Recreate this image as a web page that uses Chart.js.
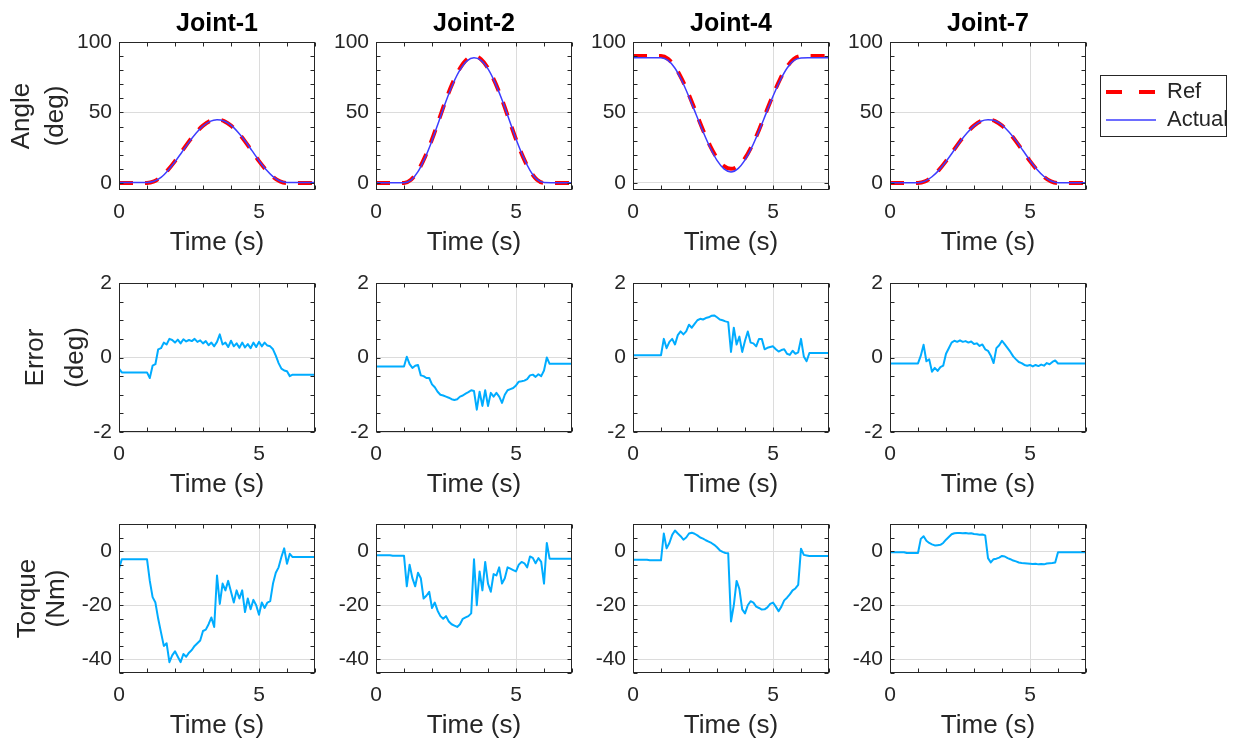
<!DOCTYPE html>
<html>
<head>
<meta charset="utf-8">
<script src="https://cdn.jsdelivr.net/npm/chart.js@4"></script>
<style>
  html, body { margin: 0; background: #fff; }
  #fig { position: relative; width: 1234px; height: 742px; overflow: hidden; }
  #fig canvas { position: absolute; }
</style>
</head>
<body>
<div id="fig"></div>
<script>
// ---- data ----
const joints = ['Joint-1', 'Joint-2', 'Joint-4', 'Joint-7'];
const rowLabels = [['Angle', '(deg)'], ['Error', '(deg)'], ['Torque', '(Nm)']];
const xTickLabels = [0, 5];
const angleTicks = [0, 50, 100];
const errorTicks = [-2, 0, 2];
const torqueTicks = [-40, -20, 0];

// time base of the angle curves (s)
const tAngle = [0, 0.25, 0.5, 0.75, 1, 1.25, 1.5, 1.75, 2, 2.25, 2.5, 2.75, 3, 3.25, 3.5,
  3.75, 4, 4.25, 4.5, 4.75, 5, 5.25, 5.5, 5.75, 6, 6.25, 6.5, 6.75, 7];

const refJ1 = [0, 0, 0, 0, 0, 1.1, 4.3, 9.3, 15.5, 22.5, 29.5, 35.7, 40.7, 43.9, 45,
  43.9, 40.7, 35.7, 29.5, 22.5, 15.5, 9.3, 4.3, 1.1, 0, 0, 0, 0, 0];
const actJ1 = [0.4, 0.4, 0.4, 0.4, 0.4, 1.2, 4.0, 8.9, 15.0, 22.0, 29.0, 35.3, 40.4, 43.7, 44.9,
  44.0, 41.0, 36.0, 29.9, 22.9, 15.8, 9.5, 4.5, 1.4, 0.4, 0.4, 0.4, 0.4, 0.4];
const refJ2 = [0, 0, 0, 0, 0, 2.2, 8.6, 18.5, 30.9, 45, 59.1, 71.5, 81.4, 87.8, 90,
  87.8, 81.4, 71.5, 59.1, 45, 30.9, 18.5, 8.6, 2.2, 0, 0, 0, 0, 0];
const actJ2 = [0.2, 0.2, 0.2, 0.2, 0.2, 2.0, 8.0, 17.8, 30.0, 44.0, 58.0, 70.4, 80.2, 86.6, 88.8,
  87.0, 80.9, 71.2, 59.0, 45.2, 31.2, 18.9, 9.0, 2.5, 0.3, 0.2, 0.2, 0.2, 0.2];
const refJ4 = [90, 90, 90, 90, 90, 88.0, 82.4, 73.5, 62.4, 50, 37.6, 26.5, 17.6, 11.9, 10,
  11.9, 17.6, 26.5, 37.6, 50, 62.4, 73.5, 82.4, 88.0, 90, 90, 90, 90, 90];
const actJ4 = [88.8, 88.8, 88.8, 88.8, 88.8, 86.9, 81.4, 72.3, 61.0, 48.8, 36.5, 25.3, 16.0, 10.0, 7.8,
  10.2, 16.4, 25.6, 36.9, 49.2, 61.5, 72.5, 81.4, 86.9, 88.6, 88.8, 88.8, 88.8, 88.8];
const refJ7 = [0, 0, 0, 0, 0, 1.1, 4.3, 9.3, 15.5, 22.5, 29.5, 35.7, 40.7, 43.9, 45,
  43.9, 40.7, 35.7, 29.5, 22.5, 15.5, 9.3, 4.3, 1.1, 0, 0, 0, 0, 0];
const actJ7 = [0.2, 0.2, 0.2, 0.2, 0.2, 1.3, 4.4, 9.1, 15.2, 22.1, 29.2, 35.4, 40.5, 43.8, 44.9,
  44.1, 41.1, 36.1, 30.0, 23.0, 15.9, 9.6, 4.6, 1.4, 0.2, 0.2, 0.2, 0.2, 0.2];

// time base of error and torque traces (s)
const tTrace = [0, 0.1, 0.2, 0.3, 0.4, 0.5, 0.6, 0.7, 0.8, 0.9, 1, 1.1, 1.2, 1.3, 1.4, 1.5, 1.6, 1.7, 1.8, 1.9,
  2, 2.1, 2.2, 2.3, 2.4, 2.5, 2.6, 2.7, 2.8, 2.9, 3, 3.1, 3.2, 3.3, 3.4, 3.5, 3.6, 3.7, 3.8, 3.9,
  4, 4.1, 4.2, 4.3, 4.4, 4.5, 4.6, 4.7, 4.8, 4.9, 5, 5.1, 5.2, 5.3, 5.4, 5.5, 5.6, 5.7, 5.8, 5.9,
  6, 6.1, 6.2, 6.3, 6.4, 6.5, 6.6, 6.7, 6.8, 6.9, 7];

const errJ1 = [-0.30, -0.40, -0.40, -0.40, -0.40, -0.40, -0.40, -0.40, -0.40, -0.40, -0.40,
  -0.55, -0.22, -0.18, 0.22, 0.25, 0.40, 0.35, 0.50, 0.47, 0.40,
  0.48, 0.38, 0.49, 0.43, 0.47, 0.44, 0.50, 0.42, 0.46, 0.38,
  0.44, 0.33, 0.40, 0.30, 0.42, 0.62, 0.35, 0.40, 0.28, 0.45,
  0.30, 0.38, 0.26, 0.40, 0.27, 0.36, 0.25, 0.40, 0.28, 0.42,
  0.30, 0.40, 0.32, 0.30, 0.22, 0.05, -0.15, -0.30, -0.35, -0.37,
  -0.50, -0.46, -0.46, -0.46, -0.46, -0.46, -0.46, -0.46, -0.46, -0.46];
const errJ2 = [-0.24, -0.24, -0.24, -0.24, -0.24, -0.24, -0.24, -0.24, -0.24, -0.24, -0.24,
  0.02, -0.18, -0.28, -0.22, -0.20, -0.48, -0.50, -0.55, -0.55, -0.72,
  -0.80, -0.92, -1.00, -1.02, -1.05, -1.08, -1.12, -1.14, -1.12, -1.05,
  -1.02, -0.97, -0.93, -0.88, -0.90, -1.40, -0.92, -1.30, -0.88, -1.30,
  -0.95, -1.05, -0.95, -1.05, -1.22, -1.00, -0.88, -0.85, -0.82, -0.75,
  -0.65, -0.64, -0.62, -0.58, -0.48, -0.46, -0.52, -0.45, -0.50, -0.35,
  0.00, -0.17, -0.17, -0.17, -0.17, -0.17, -0.17, -0.17, -0.17, -0.17];
const errJ4 = [0.06, 0.06, 0.06, 0.06, 0.06, 0.06, 0.06, 0.06, 0.06, 0.06, 0.06,
  0.50, 0.25, 0.42, 0.50, 0.35, 0.60, 0.70, 0.62, 0.70, 0.88,
  0.80, 0.90, 1.00, 1.04, 1.02, 1.06, 1.08, 1.12, 1.13, 1.08,
  1.02, 1.00, 0.97, 0.95, 0.15, 0.80, 0.35, 0.56, 0.15, 0.45,
  0.70, 0.40, 0.38, 0.30, 0.50, 0.50, 0.22, 0.26, 0.28, 0.30,
  0.22, 0.16, 0.20, 0.22, 0.10, 0.07, 0.18, 0.10, 0.14, 0.50,
  0.03, -0.10, 0.12, 0.12, 0.12, 0.12, 0.12, 0.12, 0.12, 0.12];
const errJ7 = [-0.16, -0.16, -0.16, -0.16, -0.16, -0.16, -0.16, -0.16, -0.16, -0.16, -0.16,
  0.05, 0.34, -0.10, -0.05, -0.38, -0.28, -0.36, -0.26, -0.22, 0.10,
  0.25, 0.40, 0.45, 0.42, 0.46, 0.42, 0.44, 0.40, 0.43, 0.36,
  0.38, 0.31, 0.35, 0.22, 0.18, 0.05, -0.15, 0.25, 0.33, 0.45,
  0.35, 0.25, 0.15, 0.03, -0.05, -0.12, -0.15, -0.20, -0.22, -0.20,
  -0.24, -0.20, -0.23, -0.19, -0.22, -0.15, -0.18, -0.12, -0.08, -0.16,
  -0.16, -0.16, -0.16, -0.16, -0.16, -0.16, -0.16, -0.16, -0.16, -0.16];

const tqJ1 = [-6.5, -3.0, -3.0, -3.0, -3.0, -3.0, -3.0, -3.0, -3.0, -3.0, -3.0,
  -11.0, -17.0, -19.0, -25.0, -30.0, -35.0, -34.0, -41.0, -38.5, -37.0,
  -39.0, -41.0, -38.0, -39.0, -37.5, -36.5, -35.0, -34.0, -33.0, -29.5,
  -29.0, -27.0, -24.5, -28.0, -9.0, -19.5, -12.0, -14.5, -11.0, -15.0,
  -19.0, -14.5, -17.5, -14.5, -22.5, -17.5, -21.5, -18.0, -20.0, -23.5,
  -19.0, -21.0, -19.0, -18.5, -12.0, -8.0, -6.0, -2.2, 1.0, -4.7,
  -1.0, -2.2, -2.2, -2.2, -2.2, -2.2, -2.2, -2.2, -2.2, -2.2];
const tqJ2 = [-1.5, -1.5, -1.5, -1.5, -1.5, -1.5, -1.7, -1.7, -1.7, -1.7, -1.7,
  -13.0, -5.0, -10.0, -13.0, -8.0, -10.0, -17.5, -16.5, -15.0, -21.0,
  -19.0, -22.0, -24.0, -25.0, -24.0, -26.0, -27.0, -27.5, -28.0, -27.0,
  -25.0, -24.5, -24.0, -23.0, -3.0, -20.0, -7.5, -14.5, -4.0, -12.0,
  -15.0, -8.5, -9.0, -6.0, -12.0, -10.0, -6.0, -6.5, -7.0, -7.5,
  -5.0, -4.0, -4.5, -6.0, -2.0, -2.5, -4.5, -2.6, -4.0, -12.0,
  3.0, -2.8, -2.8, -2.8, -2.8, -2.8, -2.8, -2.8, -2.8, -2.8];
const tqJ4 = [-3.2, -3.2, -3.2, -3.2, -3.2, -3.2, -3.4, -3.4, -3.4, -3.4, -3.4,
  6.5, 1.0, 3.0, 6.0, 7.6, 6.5, 5.5, 4.2, 5.0, 6.5,
  6.8, 6.4, 5.8, 5.0, 4.6, 4.0, 3.5, 3.0, 2.3, 1.4,
  0.3, -0.3, -0.7, -0.8, -26.0, -20.0, -11.0, -14.0, -21.5, -23.0,
  -20.0, -18.5, -19.0, -20.5, -21.0, -21.6, -21.5, -20.8, -19.5, -19.0,
  -20.5, -22.2, -20.5, -18.2, -17.2, -16.0, -14.5, -13.8, -12.5, 0.9,
  -1.4, -1.6, -1.8, -1.8, -1.8, -1.8, -1.8, -1.8, -1.8, -1.8];
const tqJ7 = [-0.4, -0.4, -0.4, -0.4, -0.4, -0.4, -0.7, -0.7, -0.7, -0.7, -0.7,
  4.5, 5.5, 3.8, 3.0, 2.5, 2.1, 2.2, 2.3, 3.0, 4.2,
  5.2, 6.2, 6.6, 6.7, 6.7, 6.6, 6.7, 6.5, 6.6, 6.3,
  6.2, 6.0, 6.1, 5.8, -2.6, -4.2, -3.0, -2.8, -2.4, -1.8,
  -2.0, -2.6, -3.0, -3.5, -3.8, -4.2, -4.4, -4.5, -4.6, -4.7,
  -4.8, -4.7, -4.9, -4.8, -4.9, -4.6, -4.5, -4.4, -4.2, -0.4,
  -0.4, -0.4, -0.4, -0.4, -0.4, -0.4, -0.4, -0.4, -0.4, -0.4];

const refAngles = [refJ1, refJ2, refJ4, refJ7];
const actAngles = [actJ1, actJ2, actJ4, actJ7];
const errors = [errJ1, errJ2, errJ4, errJ7];
const torques = [tqJ1, tqJ2, tqJ4, tqJ7];

// ---- look ----
const FONT = '"Liberation Sans", Arial, Helvetica, sans-serif';
const INK = '#262626';
const GRID = '#dcdcdc';
const RED = '#ff0000';
const BLUE = '#3c3cff';
const CYAN = 'rgb(0,172,255)';

const colLeft = [119, 376, 633, 890];
const rowTop = [42, 283, 524];
const rowH = [148, 149, 149];
const plotW = 196;

function range(a, b, s) {
  const out = [];
  for (let v = a; v <= b + 1e-9; v += s) out.push(Math.round(v * 1000) / 1000);
  return out;
}
const xMinor = range(0, 7, 1);

const rows = [
  {min: -5, max: 100, minor: range(0, 100, 10), major: angleTicks, lh: '34px', pad: 5},
  {min: -2, max: 2, minor: range(-2, 2, 0.5), major: errorTicks, lh: '40px', pad: 16},
  {min: -45, max: 10, minor: range(-45, 10, 5), major: torqueTicks, lh: '29px', pad: 13}
];

// box with inward minor ticks on all four sides
const frame = {
  id: 'frame',
  afterDatasetsDraw(chart) {
    const {ctx, chartArea: a, scales: {x, y}} = chart;
    const l = Math.round(a.left) + 0.5, r = Math.round(a.right) - 0.5;
    const t = Math.round(a.top) + 0.5, b = Math.round(a.bottom) - 0.5;
    ctx.save();
    ctx.strokeStyle = INK;
    ctx.lineWidth = 1;
    ctx.beginPath();
    x.ticks.forEach(tk => {
      const px = Math.round(x.getPixelForValue(tk.value)) + 0.5;
      ctx.moveTo(px, t); ctx.lineTo(px, t + 4);
      ctx.moveTo(px, b); ctx.lineTo(px, b - 4);
    });
    y.ticks.forEach(tk => {
      const py = Math.round(y.getPixelForValue(tk.value)) + 0.5;
      ctx.moveTo(l, py); ctx.lineTo(l + 4, py);
      ctx.moveTo(r, py); ctx.lineTo(r - 4, py);
    });
    ctx.stroke();
    ctx.strokeRect(l, t, r - l, b - t);
    ctx.restore();
  }
};

const fig = document.getElementById('fig');

function toXY(ts, vs) {
  return ts.map((t, i) => ({x: t, y: vs[i]}));
}

function makePanel(r, c, datasets) {
  const R = rows[r];
  const L = c === 0 ? 119 : 60;
  const T = r === 0 ? 42 : 20;
  const cv = document.createElement('canvas');
  cv.width = L + plotW + 12;
  cv.height = T + rowH[r] + 70;
  cv.style.left = (colLeft[c] - L) + 'px';
  cv.style.top = (rowTop[r] - T) + 'px';
  fig.appendChild(cv);

  new Chart(cv, {
    type: 'line',
    data: {datasets},
    options: {
      responsive: false,
      animation: false,
      layout: {padding: {top: r === 0 ? 0 : T, right: 12, left: 0, bottom: 0}},
      elements: {point: {radius: 0}},
      plugins: {
        legend: {display: false},
        tooltip: {enabled: false},
        title: {
          display: r === 0,
          text: joints[c],
          fullSize: false,
          color: '#000',
          font: {family: FONT, size: 25, weight: 'bold', lineHeight: 1.2},
          padding: {top: 9, bottom: 3}
        }
      },
      scales: {
        x: {
          type: 'linear', min: 0, max: 7,
          afterBuildTicks: s => { s.ticks = xMinor.map(v => ({value: v})); },
          afterFit: s => { s.height = 70; },
          ticks: {
            autoSkip: false, maxRotation: 0, padding: 10, color: INK,
            font: {family: FONT, size: 21},
            callback: v => xTickLabels.includes(v) ? String(v) : ''
          },
          grid: {
            drawTicks: false,
            color: ctx => (ctx.tick && xTickLabels.includes(ctx.tick.value)) ? GRID : 'rgba(0,0,0,0)'
          },
          border: {display: false},
          title: {
            display: true, text: 'Time (s)', color: INK,
            font: {family: FONT, size: 26, lineHeight: 1.2},
            padding: {top: 0, bottom: 1.4}
          }
        },
        y: {
          type: 'linear', min: R.min, max: R.max,
          afterBuildTicks: s => { s.ticks = R.minor.map(v => ({value: v})); },
          afterFit: s => { s.width = L; },
          ticks: {
            autoSkip: false, padding: 7, color: INK,
            font: {family: FONT, size: 21},
            callback: v => R.major.includes(v) ? String(v) : ''
          },
          grid: {
            drawTicks: false,
            color: ctx => (ctx.tick && R.major.includes(ctx.tick.value)) ? GRID : 'rgba(0,0,0,0)'
          },
          border: {display: false},
          title: {
            display: c === 0, text: rowLabels[r], color: INK,
            font: {family: FONT, size: 26, lineHeight: R.lh},
            padding: {top: R.pad, bottom: 0}
          }
        }
      }
    },
    plugins: [frame]
  });
}

for (let c = 0; c < 4; c++) {
  makePanel(0, c, [
    {label: 'Ref', data: toXY(tAngle, refAngles[c]), borderColor: RED, borderWidth: 4,
      borderDash: [14, 12], cubicInterpolationMode: 'monotone', order: 2},
    {label: 'Actual', data: toXY(tAngle, actAngles[c]), borderColor: BLUE, borderWidth: 1.5,
      cubicInterpolationMode: 'monotone', order: 1}
  ]);
  makePanel(1, c, [
    {label: 'Error', data: toXY(tTrace, errors[c]), borderColor: CYAN, borderWidth: 2,
      tension: 0, borderJoinStyle: 'round'}
  ]);
  makePanel(2, c, [
    {label: 'Torque', data: toXY(tTrace, torques[c]), borderColor: CYAN, borderWidth: 2,
      tension: 0, borderJoinStyle: 'round'}
  ]);
}

// legend, drawn by Chart.js in its own small canvas with a frame round it
const legendFrame = {
  id: 'legendFrame',
  afterDraw(chart) {
    const {ctx, width, height} = chart;
    ctx.save();
    ctx.strokeStyle = INK;
    ctx.lineWidth = 1;
    ctx.strokeRect(0.5, 0.5, width - 1, height - 1);
    ctx.restore();
  }
};
const lg = document.createElement('canvas');
lg.width = 127;
lg.height = 62;
lg.style.left = '1100px';
lg.style.top = '75px';
fig.appendChild(lg);
new Chart(lg, {
  type: 'line',
  data: {
    datasets: [
      {label: 'Ref', data: [], borderColor: RED, borderWidth: 4, borderDash: [16, 17]},
      {label: 'Actual', data: [], borderColor: BLUE, borderWidth: 1.5}
    ]
  },
  options: {
    responsive: false,
    animation: false,
    layout: {padding: 0},
    scales: {x: {display: false}, y: {display: false}},
    plugins: {
      tooltip: {enabled: false},
      legend: {
        position: 'left', align: 'start', maxWidth: 300,
        labels: {
          usePointStyle: true, pointStyle: 'line', pointStyleWidth: 50, padding: 6,
          color: INK, font: {family: FONT, size: 22, lineHeight: '21px'},
          generateLabels: chart => Chart.defaults.plugins.legend.labels.generateLabels(chart).map((it, i) => {
            const ds = chart.data.datasets[i];
            return Object.assign(it, {lineDash: ds.borderDash || [], lineWidth: ds.borderWidth, strokeStyle: ds.borderColor});
          })
        }
      }
    }
  },
  plugins: [legendFrame]
});
</script>
</body>
</html>
